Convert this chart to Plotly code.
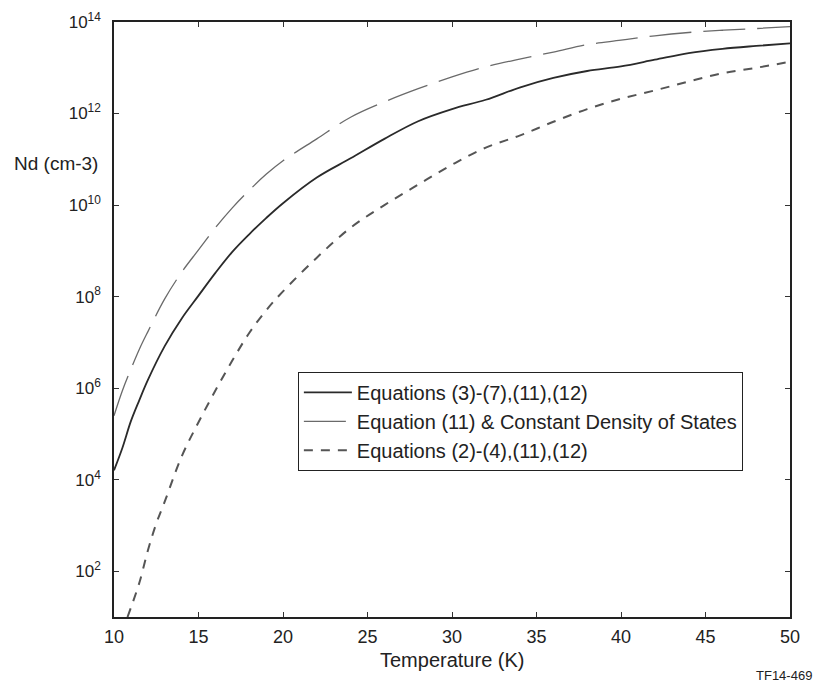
"""
Donor density vs temperature, three model curves on a log axis.
"""

import plotly.graph_objects as go

# ------------------------------------------------------- Data ---------------------------------------------------------

temp_eq3_7 = [10, 10.5, 11, 11.5, 12, 13, 14, 15, 16, 17, 18, 19, 20, 22, 24, 26, 28, 30, 32, 34, 36, 38, 40,
              42, 44, 46, 48, 50]
nd_eq3_7 = [1.6e4, 5.0e4, 1.9e5, 5.5e5, 1.5e6, 8.3e6, 3.3e7, 1.05e8, 3.3e8, 9.5e8, 2.3e9, 5.2e9, 1.1e10,
            4.0e10, 1.05e11, 2.8e11, 6.8e11, 1.25e12, 2.0e12, 3.7e12, 6.0e12, 8.5e12, 1.07e13, 1.5e13,
            2.1e13, 2.6e13, 3.0e13, 3.4e13]

temp_const_dos = [10, 10.5, 11, 11.5, 12, 13, 14, 15, 16, 17, 18, 19, 20, 22, 24, 26, 28, 30, 32, 34, 36, 38,
                  40, 42, 44, 46, 48, 50]
nd_const_dos = [2.5e5, 8.9e5, 2.6e6, 7.1e6, 1.7e7, 8.9e7, 3.4e8, 1.05e9, 3.2e9, 8.7e9, 2.1e10, 4.7e10, 9.3e10,
                2.8e11, 8.3e11, 1.8e12, 3.5e12, 6.3e12, 1.05e13, 1.55e13, 2.2e13, 3.2e13, 4.0e13, 5.0e13,
                5.9e13, 6.6e13, 7.2e13, 7.9e13]

temp_eq2_4 = [10.8, 11, 11.5, 12, 12.5, 13, 14, 15, 16, 17, 18, 19, 20, 22, 24, 26, 28, 30, 32, 34, 36, 38,
              40, 42, 44, 46, 48, 50]
nd_eq2_4 = [1.0e1, 1.6e1, 5.6e1, 2.8e2, 1.1e3, 3.3e3, 3.2e4, 1.8e5, 8.9e5, 4.0e6, 1.6e7, 5.0e7, 1.3e8,
            7.1e8, 3.2e9, 1.0e10, 2.8e10, 7.6e10, 1.8e11, 3.3e11, 6.6e11, 1.25e12, 2.1e12, 3.2e12,
            5.0e12, 7.6e12, 1.0e13, 1.35e13]

x_ticks = [10, 15, 20, 25, 30, 35, 40, 45, 50]
y_tick_exponents = [2, 4, 6, 8, 10, 12, 14]

# ------------------------------------------------------ Figure --------------------------------------------------------

font_family = 'Liberation Sans, Arial, sans-serif'
ink = '#222222'

fig = go.Figure()
fig.add_trace(go.Scatter(
    x=temp_eq3_7, y=nd_eq3_7, mode='lines', name='Equations (3)-(7),(11),(12)',
    line=dict(color='#2a2a2a', width=1.8, shape='spline')
))
fig.add_trace(go.Scatter(
    x=temp_const_dos, y=nd_const_dos, mode='lines', name='Equation (11) & Constant Density of States',
    line=dict(color='#6a6a6a', width=1.3, dash='42px,12px', shape='spline')
))
fig.add_trace(go.Scatter(
    x=temp_eq2_4, y=nd_eq2_4, mode='lines', name='Equations (2)-(4),(11),(12)',
    line=dict(color='#555555', width=2, dash='9px,8px', shape='spline')
))

axis_common = dict(
    showgrid=False, zeroline=False, showline=True, linecolor=ink, linewidth=1.5,
    mirror='ticks', ticks='inside', ticklen=5, tickcolor='#333333', automargin=False
)

# the page adds an 8px body margin, so the figure is sized 8px short of the window
fig.update_layout(
    width=814, height=676,
    margin=dict(l=106, r=32, t=14, b=67),
    paper_bgcolor='white', plot_bgcolor='white',
    font=dict(family=font_family, color=ink),
    xaxis=dict(axis_common, range=[10, 50], tickvals=x_ticks, ticklabelstandoff=3,
               tickfont=dict(family=font_family, size=18, color=ink)),
    yaxis=dict(axis_common, type='log', range=[1, 14],
               tickvals=[10 ** e for e in y_tick_exponents],
               ticktext=['10<sup>%d</sup>' % e for e in y_tick_exponents],
               ticklabelstandoff=8,
               tickfont=dict(family=font_family, size=17, color=ink)),
    legend=dict(
        x=0.272, y=0.412, xanchor='left', yanchor='top',
        bordercolor=ink, borderwidth=1, bgcolor='white',
        font=dict(family=font_family, size=20, color=ink),
        tracegroupgap=0, itemwidth=48, entrywidth=456, entrywidthmode='pixels'
    ),
    showlegend=True,
    annotations=[
        dict(text='Nd (cm-3)', xref='paper', yref='paper', x=-0.02, y=0.763,
             xanchor='right', yanchor='middle', showarrow=False,
             font=dict(family=font_family, size=19, color=ink)),
        dict(text='Temperature (K)', xref='paper', yref='paper', x=0.5, y=-0.072,
             xanchor='center', yanchor='middle', showarrow=False,
             font=dict(family=font_family, size=20, color=ink)),
        dict(text='TF14-469', xref='paper', yref='paper', x=1.0355, y=-0.099,
             xanchor='right', yanchor='middle', showarrow=False,
             font=dict(family=font_family, size=13, color=ink)),
    ]
)

fig.write_html('out.html')
